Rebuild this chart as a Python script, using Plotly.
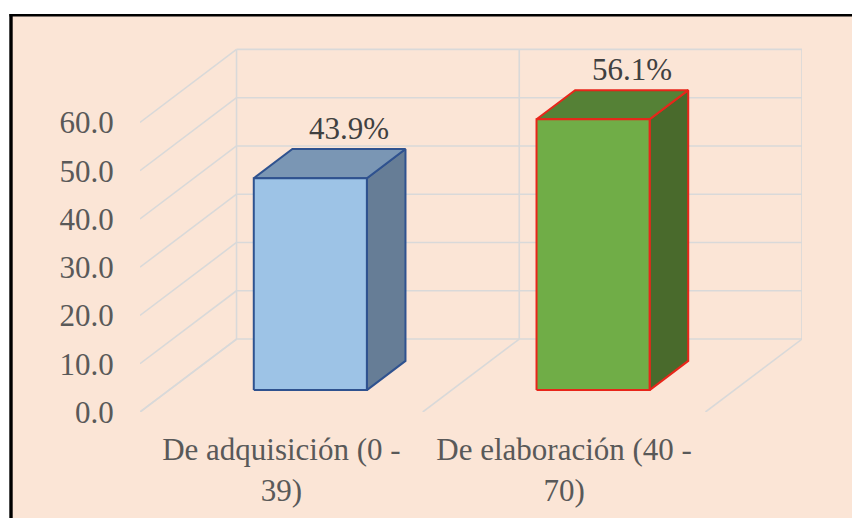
import plotly.graph_objects as go

# ---------------- data ----------------
categories = ["De adquisición (0 - 39)", "De elaboración (40 - 70)"]
values = [43.9, 56.1]
value_labels = ["43.9%", "56.1%"]
y_ticks = [0, 10, 20, 30, 40, 50, 60]
y_tick_labels = ["0.0", "10.0", "20.0", "30.0", "40.0", "50.0", "60.0"]

# ---------------- style / pseudo-3D geometry ----------------
W, H = 852, 518
ML, MR, MT, MB = 140, 50, 40, 106
DX = 0.3414          # depth shift along x (category units)
DY = 15.12           # depth shift along y (value units)
BAR_W = 0.40         # bar width (category units)
D0, D1 = 0.30, 0.70  # bar depth span (fraction of floor depth)
Y_TOP = 77.07
BG = "#FBE5D6"
GRID = "#D9D9D9"
FONT = "Liberation Serif"

front_cols = ["#9DC3E6", "#70AD47"]
top_cols = ["#7A96B4", "#558136"]
side_cols = ["#667D96", "#496A2C"]
edge_cols = ["#2F528F", "#E8261A"]

n = len(categories)
ymax = max(y_ticks)


def proj(x, y, d):
    return x + d * DX, y + d * DY


fig = go.Figure()

# ---- gridlines (back wall, side wall, floor) ----
gx, gy = [], []
for t in y_ticks:
    a = proj(0, t, 1); b = proj(n, t, 1)
    gx += [a[0], b[0], None]; gy += [a[1], b[1], None]
    a = proj(0, t, 0); b = proj(0, t, 1)
    gx += [a[0], b[0], None]; gy += [a[1], b[1], None]
for k in range(n + 1):
    a = proj(k, 0, 1); b = proj(k, ymax, 1)
    gx += [a[0], b[0], None]; gy += [a[1], b[1], None]
    a = proj(k, 0, 0); b = proj(k, 0, 1)
    gx += [a[0], b[0], None]; gy += [a[1], b[1], None]

fig.add_trace(go.Scatter(x=gx, y=gy, mode="lines",
                         line=dict(color=GRID, width=1.6),
                         hoverinfo="skip", showlegend=False))

# ---- bars (front, top, side faces) ----
for i, v in enumerate(values):
    x0 = i + 0.5 - BAR_W / 2
    x1 = i + 0.5 + BAR_W / 2
    faces = [
        ([(x1, 0, D0), (x1, 0, D1), (x1, v, D1), (x1, v, D0)], side_cols[i]),
        ([(x0, v, D0), (x1, v, D0), (x1, v, D1), (x0, v, D1)], top_cols[i]),
        ([(x0, 0, D0), (x1, 0, D0), (x1, v, D0), (x0, v, D0)], front_cols[i]),
    ]
    for pts, col in faces:
        xs, ys = zip(*[proj(*p) for p in pts])
        fig.add_trace(go.Scatter(
            x=list(xs) + [xs[0]], y=list(ys) + [ys[0]],
            mode="lines", fill="toself", fillcolor=col,
            line=dict(color=edge_cols[i], width=2),
            hoverinfo="skip", showlegend=False))

# ---- data labels ----
for i, v in enumerate(values):
    lx, ly = proj(i + 0.5, v, D1)
    fig.add_annotation(x=lx, y=ly, text=value_labels[i], showarrow=False,
                       xanchor="center", yanchor="middle", yshift=21,
                       font=dict(family=FONT, size=31, color="#404040"))

# ---- frame (white page, peach chart area, black border) ----
def px2paper_x(px):
    return (px - ML) / (W - ML - MR)


def py2paper_y(py):
    return (H - MB - py) / (H - MT - MB)


fig.add_shape(type="rect", xref="paper", yref="paper", layer="below",
              x0=px2paper_x(11), x1=px2paper_x(W + 20),
              y0=py2paper_y(15.2), y1=py2paper_y(H + 20),
              fillcolor=BG, line=dict(width=0))
fig.add_shape(type="line", xref="paper", yref="paper", layer="above",
              x0=px2paper_x(9.5), x1=px2paper_x(W + 20),
              y0=py2paper_y(15.2), y1=py2paper_y(15.2),
              line=dict(color="black", width=2.6))
fig.add_shape(type="line", xref="paper", yref="paper", layer="above",
              x0=px2paper_x(11), x1=px2paper_x(11),
              y0=py2paper_y(14), y1=py2paper_y(H + 20),
              line=dict(color="black", width=3.4))

wrapped = ["<br>".join(c.rsplit(" ", 1)) for c in categories]

fig.update_layout(
    template="none",
    width=W, height=H, autosize=False,
    margin=dict(l=ML, r=MR, t=MT, b=MB, pad=0, autoexpand=False),
    paper_bgcolor="white", plot_bgcolor="rgba(0,0,0,0)",
    showlegend=False,
    font=dict(family=FONT, size=31, color="#595959"),
    xaxis=dict(range=[0, n + DX], tickvals=[i + 0.5 for i in range(n)],
               ticktext=wrapped, showgrid=False, zeroline=False,
               showline=False, ticks="outside", ticklen=10,
               tickcolor="rgba(0,0,0,0)", fixedrange=True, automargin=False,
               tickfont=dict(family=FONT, size=31, color="#595959")),
    yaxis=dict(range=[0, Y_TOP], tickvals=y_ticks, ticktext=y_tick_labels,
               showgrid=False, zeroline=False, showline=False,
               ticks="outside", ticklen=19, tickcolor="rgba(0,0,0,0)",
               fixedrange=True, automargin=False,
               tickfont=dict(family=FONT, size=31, color="#595959")),
)

fig.write_html("out.html", config={"displayModeBar": False},
               post_script="document.body.style.margin='0';"
                           "document.documentElement.style.overflow='hidden';")
